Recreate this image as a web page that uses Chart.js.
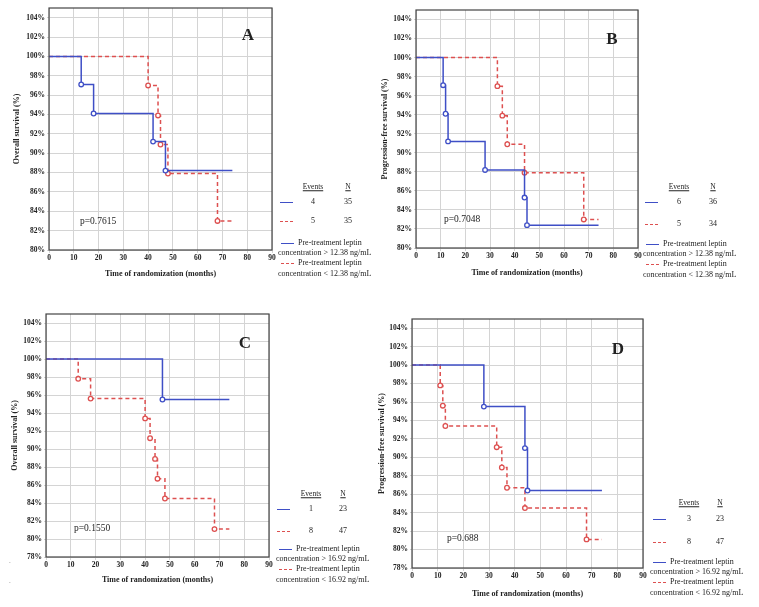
<!DOCTYPE html>
<html>
<head>
<meta charset="utf-8">
<script src="https://cdn.jsdelivr.net/npm/chart.js@4.4.0/dist/chart.umd.min.js"></script>
<style>
  body { margin: 0; background: #fff; }
  #page { position: relative; width: 759px; height: 607px; overflow: hidden; font-family: "Liberation Serif", serif; color: #222; }
  canvas { position: absolute; left: 0; top: 0; }
  .t { position: absolute; white-space: nowrap; line-height: 1; }
  .u { text-decoration: underline; }
  .sample { display: inline-block; width: 13px; vertical-align: middle; margin-right: 4px; }
</style>
</head>
<body>
<div id="page">
  <canvas id="cA" width="759" height="607"></canvas>
  <canvas id="cB" width="759" height="607"></canvas>
  <canvas id="cC" width="759" height="607"></canvas>
  <canvas id="cD" width="759" height="607"></canvas>
</div>
<script>
// Panel A: overall survival, cut-off 12.38 ng/mL
const aHighTime = [0, 13, 18, 42, 47, 74];
const aHighSurv = [100, 97.1, 94.1, 91.2, 88.2, 88.2];
const aLowTime = [0, 40, 44, 45, 48, 68, 74];
const aLowSurv = [100, 97.0, 93.9, 90.9, 87.9, 83.0, 83.0];

// Panel B: progression-free survival, cut-off 12.38 ng/mL
const bHighTime = [0, 11, 12, 13, 28, 44, 45, 74];
const bHighSurv = [100, 97.1, 94.1, 91.2, 88.2, 85.3, 82.4, 82.4];
const bLowTime = [0, 33, 35, 37, 44, 68, 74];
const bLowSurv = [100, 97.0, 93.9, 90.9, 87.9, 83.0, 83.0];

// Panel C: overall survival, cut-off 16.92 ng/mL
const cHighTime = [0, 47, 74];
const cHighSurv = [100, 95.5, 95.5];
const cLowTime = [0, 13, 18, 40, 42, 44, 45, 48, 68, 74];
const cLowSurv = [100, 97.8, 95.6, 93.4, 91.2, 88.9, 86.7, 84.5, 81.1, 81.1];

// Panel D: progression-free survival, cut-off 16.92 ng/mL
const dHighTime = [0, 28, 44, 45, 74];
const dHighSurv = [100, 95.5, 91.0, 86.4, 86.4];
const dLowTime = [0, 11, 12, 13, 33, 35, 37, 44, 68, 74];
const dLowSurv = [100, 97.8, 95.6, 93.4, 91.1, 88.9, 86.7, 84.5, 81.1, 81.1];

const xTicks = [0, 10, 20, 30, 40, 50, 60, 70, 80, 90];
const events = { A: [4, 5], B: [6, 5], C: [1, 8], D: [3, 8] };
const totals = { A: [35, 35], B: [36, 34], C: [23, 47], D: [23, 47] };
const pValues = { A: 'p=0.7615', B: 'p=0.7048', C: 'p=0.1550', D: 'p=0.688' };
const cutoffs = { A: '12.38', B: '12.38', C: '16.92', D: '16.92' };
const yTitles = { A: 'Overall survival (%)', B: 'Progression-free survival (%)', C: 'Overall survival (%)', D: 'Progression-free survival (%)' };

const BLUE = '#3f4fc6';
const RED = '#dd5050';
const W = 759, H = 607;

function pts(t, s) {
    return t.map((x, i) => ({ x: x, y: s[i] }));
}

const framePlugin = {
    id: 'frame',
    afterDraw(chart) {
        const a = chart.chartArea;
        const ctx = chart.ctx;
        ctx.save();
        ctx.strokeStyle = '#444';
        ctx.lineWidth = 1.2;
        ctx.strokeRect(a.left, a.top, a.right - a.left, a.bottom - a.top);
        ctx.restore();
    }
};

function markerRadius(ctx) {
    const n = ctx.dataset.data.length;
    return (ctx.dataIndex === 0 || ctx.dataIndex === n - 1) ? 0 : 2.3;
}

function makePanel(id, g, high, low, yMin) {
    const titleLH = 8 * 1.2;
    const padLeft = g.yTitleX - titleLH / 2;
    const yWidth = g.left - padLeft;
    const xHeight = g.xTitleY + titleLH / 2 - g.bottom;

    new Chart(document.getElementById('c' + id), {
        type: 'line',
        data: {
            datasets: [
                {
                    data: high,
                    borderColor: BLUE,
                    borderWidth: 1.5,
                    stepped: 'before',
                    pointRadius: markerRadius,
                    pointBackgroundColor: '#fff',
                    pointBorderColor: BLUE,
                    pointBorderWidth: 1.3
                },
                {
                    data: low,
                    borderColor: RED,
                    borderWidth: 1.5,
                    borderDash: [4, 3],
                    stepped: 'before',
                    pointRadius: markerRadius,
                    pointBackgroundColor: '#fff',
                    pointBorderColor: RED,
                    pointBorderWidth: 1.3
                }
            ]
        },
        options: {
            responsive: false,
            animation: false,
            layout: {
                padding: { left: padLeft, right: W - g.right, top: g.top, bottom: H - g.bottom - xHeight }
            },
            plugins: { legend: { display: false }, tooltip: { enabled: false } },
            scales: {
                x: {
                    type: 'linear',
                    min: 0,
                    max: 90,
                    afterFit: s => { s.height = xHeight; },
                    afterBuildTicks: s => { s.ticks = xTicks.map(v => ({ value: v })); },
                    grid: { color: '#d4d4d4', tickLength: 3 },
                    border: { display: false },
                    ticks: { autoSkip: false, maxRotation: 0, padding: 1, color: '#222',
                             font: { family: 'Liberation Serif', size: 7.5, weight: 'bold' } },
                    title: { display: true, text: 'Time of randomization (months)', color: '#222',
                             padding: { top: 0, bottom: 0 },
                             font: { family: 'Liberation Serif', size: 8, weight: 'bold' } }
                },
                y: {
                    min: yMin,
                    max: 105,
                    afterFit: s => { s.width = yWidth; },
                    grid: { color: '#d4d4d4', tickLength: 2 },
                    border: { display: false },
                    ticks: { stepSize: 2, includeBounds: false, padding: 2, color: '#222',
                             callback: v => v + '%',
                             font: { family: 'Liberation Serif', size: 7.5, weight: 'bold' } },
                    title: { display: true, text: yTitles[id], color: '#222',
                             padding: { top: 0, bottom: 0 },
                             font: { family: 'Liberation Serif', size: 8, weight: 'bold' } }
                }
            }
        },
        plugins: [framePlugin]
    });
}

const page = document.getElementById('page');
function text(x, y, html, opts) {
    const d = document.createElement('div');
    d.className = 't';
    d.innerHTML = html;
    d.style.left = x + 'px';
    d.style.top = y + 'px';
    d.style.fontSize = (opts.size || 8) + 'px';
    if (opts.bold) d.style.fontWeight = 'bold';
    if (opts.color) d.style.color = opts.color;
    d.style.transform = opts.center ? 'translate(-50%, -50%)' : 'translateY(-50%)';
    page.appendChild(d);
    return d;
}
function sample(color, dashed) {
    return '<span class="sample" style="border-top:1.5px ' + (dashed ? 'dashed' : 'solid') + ' ' + color + '"></span>';
}

function annotate(id, a) {
    text(a.letter[0], a.letter[1], id, { size: 17, bold: true, center: true });
    text(a.p[0], a.p[1], pValues[id], { size: 9.5 });
    // events / N table
    text(a.ex, a.hy, '<span class="u">Events</span>', { size: 7.5, center: true });
    text(a.nx, a.hy, '<span class="u">N</span>', { size: 7.5, center: true });
    text(a.sx, a.r1, sample(BLUE, false), {});
    text(a.sx, a.r2, sample(RED, true), {});
    text(a.ex, a.r1, String(events[id][0]), { size: 8, center: true });
    text(a.nx, a.r1, String(totals[id][0]), { size: 8, center: true });
    text(a.ex, a.r2, String(events[id][1]), { size: 8, center: true });
    text(a.nx, a.r2, String(totals[id][1]), { size: 8, center: true });
    // group descriptions
    text(a.cx + 3, a.e1, sample(BLUE, false) + 'Pre-treatment leptin', { size: 8 });
    text(a.cx, a.e1 + 9.5, 'concentration &gt; ' + cutoffs[id] + ' ng/mL', { size: 8 });
    text(a.cx + 3, a.e1 + 20, sample(RED, true) + 'Pre-treatment leptin', { size: 8 });
    text(a.cx, a.e1 + 30.5, 'concentration &lt; ' + cutoffs[id] + ' ng/mL', { size: 8 });
}

makePanel('A', { left: 49, right: 272, top: 8, bottom: 250, yTitleX: 17, xTitleY: 274 },
    pts(aHighTime, aHighSurv), pts(aLowTime, aLowSurv), 80);
makePanel('B', { left: 416, right: 638, top: 10, bottom: 248, yTitleX: 385, xTitleY: 273 },
    pts(bHighTime, bHighSurv), pts(bLowTime, bLowSurv), 80);
makePanel('C', { left: 46, right: 269, top: 314, bottom: 557, yTitleX: 15, xTitleY: 580 },
    pts(cHighTime, cHighSurv), pts(cLowTime, cLowSurv), 78);
makePanel('D', { left: 412, right: 643, top: 319, bottom: 568, yTitleX: 382, xTitleY: 594 },
    pts(dHighTime, dHighSurv), pts(dLowTime, dLowSurv), 78);

annotate('A', { letter: [248, 34], p: [80, 222], ex: 313, nx: 348, hy: 187, r1: 202, r2: 221, sx: 280, cx: 278, e1: 243 });
annotate('B', { letter: [612, 38], p: [444, 220], ex: 679, nx: 713, hy: 187, r1: 202, r2: 224, sx: 645, cx: 643, e1: 244 });
annotate('C', { letter: [245, 342], p: [74, 529], ex: 311, nx: 343, hy: 494, r1: 509, r2: 531, sx: 277, cx: 276, e1: 549 });
annotate('D', { letter: [618, 348], p: [447, 539], ex: 689, nx: 720, hy: 503, r1: 519, r2: 542, sx: 653, cx: 650, e1: 562 });

// stray specks at the left margin of panel C
text(9, 561, '.', { size: 7, color: '#888' });
text(9, 581, '.', { size: 7, color: '#888' });
</script>
</body>
</html>
